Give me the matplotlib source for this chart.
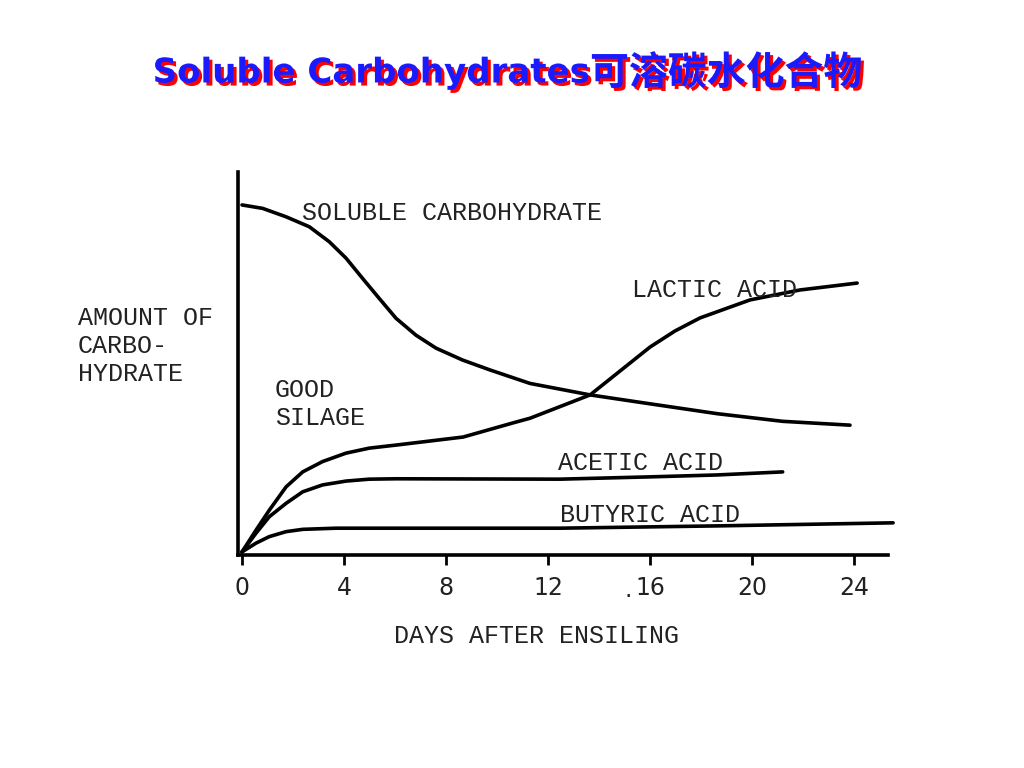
import matplotlib
matplotlib.use("Agg")
import matplotlib.pyplot as plt
import matplotlib.patheffects as pe

# curves (x = days, y = relative amount)
sol_x = [0, 0.81, 1.73, 2.64, 3.42, 4.08, 4.73, 5.38, 6.04, 6.82, 7.61, 8.65, 9.73,
         11.29, 13.65, 15.87, 18.63, 21.2, 23.84]
sol_y = [91.4, 90.5, 88.3, 85.7, 81.8, 77.5, 72.2, 67.0, 61.8, 57.4, 54.0, 50.9, 48.3,
         44.8, 41.8, 39.6, 36.9, 34.9, 33.9]

lac_x = [0, 0.55, 1.07, 1.73, 2.38, 3.16, 4.08, 4.99, 6.04, 8.67, 10.63, 11.29, 13.65,
         16.0, 16.98, 17.96, 19.92, 21.88, 24.12]
lac_y = [0.8, 6.5, 11.7, 17.8, 21.7, 24.4, 26.6, 27.9, 28.7, 30.8, 34.5, 35.7, 41.8,
         54.3, 58.5, 61.9, 66.6, 69.2, 71.0]

ace_x = [0, 0.55, 1.07, 1.73, 2.38, 3.16, 4.08, 4.99, 6.04, 12.47, 16.0, 18.63, 21.2]
ace_y = [0.8, 5.7, 10.0, 13.5, 16.5, 18.3, 19.3, 19.8, 19.9, 19.8, 20.4, 20.9, 21.7]

but_x = [0, 0.55, 1.07, 1.73, 2.38, 3.69, 12.47, 18.63, 25.53]
but_y = [0.8, 3.1, 4.8, 6.1, 6.7, 7.0, 7.0, 7.6, 8.4]

ticks = [0, 4, 8, 12, 16, 20, 24]
tick_labels = ['0', '4', '8', '12', '16', '20', '24']

W, H = 1024, 768
fig = plt.figure(figsize=(W / 100, H / 100), dpi=100)
fig.patch.set_facecolor('white')

def fx(px):
    return px / W

def fy(py):
    return 1 - py / H

# axes box in pixels: left 238, right 888, top 172, bottom 555
ax = fig.add_axes([fx(238), fy(555), (888 - 238) / W, (555 - 172) / H])
ax.set_xlim(-0.157, 25.33)
ax.set_ylim(0, 100)

lw = 2.6
for xs, ys in [(sol_x, sol_y), (lac_x, lac_y), (ace_x, ace_y), (but_x, but_y)]:
    ax.plot(xs, ys, color='black', lw=lw, solid_capstyle='round',
            solid_joinstyle='round', clip_on=False)

for s in ['top', 'right']:
    ax.spines[s].set_visible(False)
for s in ['left', 'bottom']:
    ax.spines[s].set_linewidth(2.6)
    ax.spines[s].set_color('black')

ax.set_yticks([])
ax.set_xticks(ticks)
ax.set_xticklabels(tick_labels, fontsize=17, family='DejaVu Sans', color='#222222')
ax.tick_params(axis='x', direction='out', length=7, width=2, pad=8)

mono = dict(family='Liberation Mono', fontsize=18, color='#222222')
fig.text(fx(302), fy(213), 'SOLUBLE CARBOHYDRATE', ha='left', va='center', **mono)
fig.text(fx(632), fy(290), 'LACTIC ACID', ha='left', va='center', **mono)
fig.text(fx(275), fy(404), 'GOOD\nSILAGE', ha='left', va='center', linespacing=1.2, **mono)
fig.text(fx(558), fy(463), 'ACETIC ACID', ha='left', va='center', **mono)
fig.text(fx(560), fy(515), 'BUTYRIC ACID', ha='left', va='center', **mono)
fig.text(fx(78), fy(346), 'AMOUNT OF\nCARBO-\nHYDRATE', ha='left', va='center', linespacing=1.2, **mono)
fig.text(fx(537), fy(636), 'DAYS AFTER ENSILING', ha='center', va='center', **mono)
fig.text(fx(628), fy(590), '.', ha='center', va='center', fontsize=17, color='#222222')

# title with red drop shadow
shadow = [pe.SimplePatchShadow(offset=(2.2, -2.2), shadow_rgbFace='#ff0000', alpha=1), pe.Normal()]
fig.text(fx(590), fy(73), 'Soluble Carbohydrates', ha='right', va='center',
         fontsize=24.5, fontweight='bold', family='DejaVu Sans', color='#1a1aff',
         path_effects=shadow)
fig.text(fx(590), fy(73), '可溶碳水化合物', ha='left', va='center',
         fontsize=28, fontweight='bold', family=['Noto Sans CJK SC', 'DejaVu Sans'],
         color='#1a1aff', path_effects=shadow)

fig.savefig('out.png', dpi=100, facecolor='white')
